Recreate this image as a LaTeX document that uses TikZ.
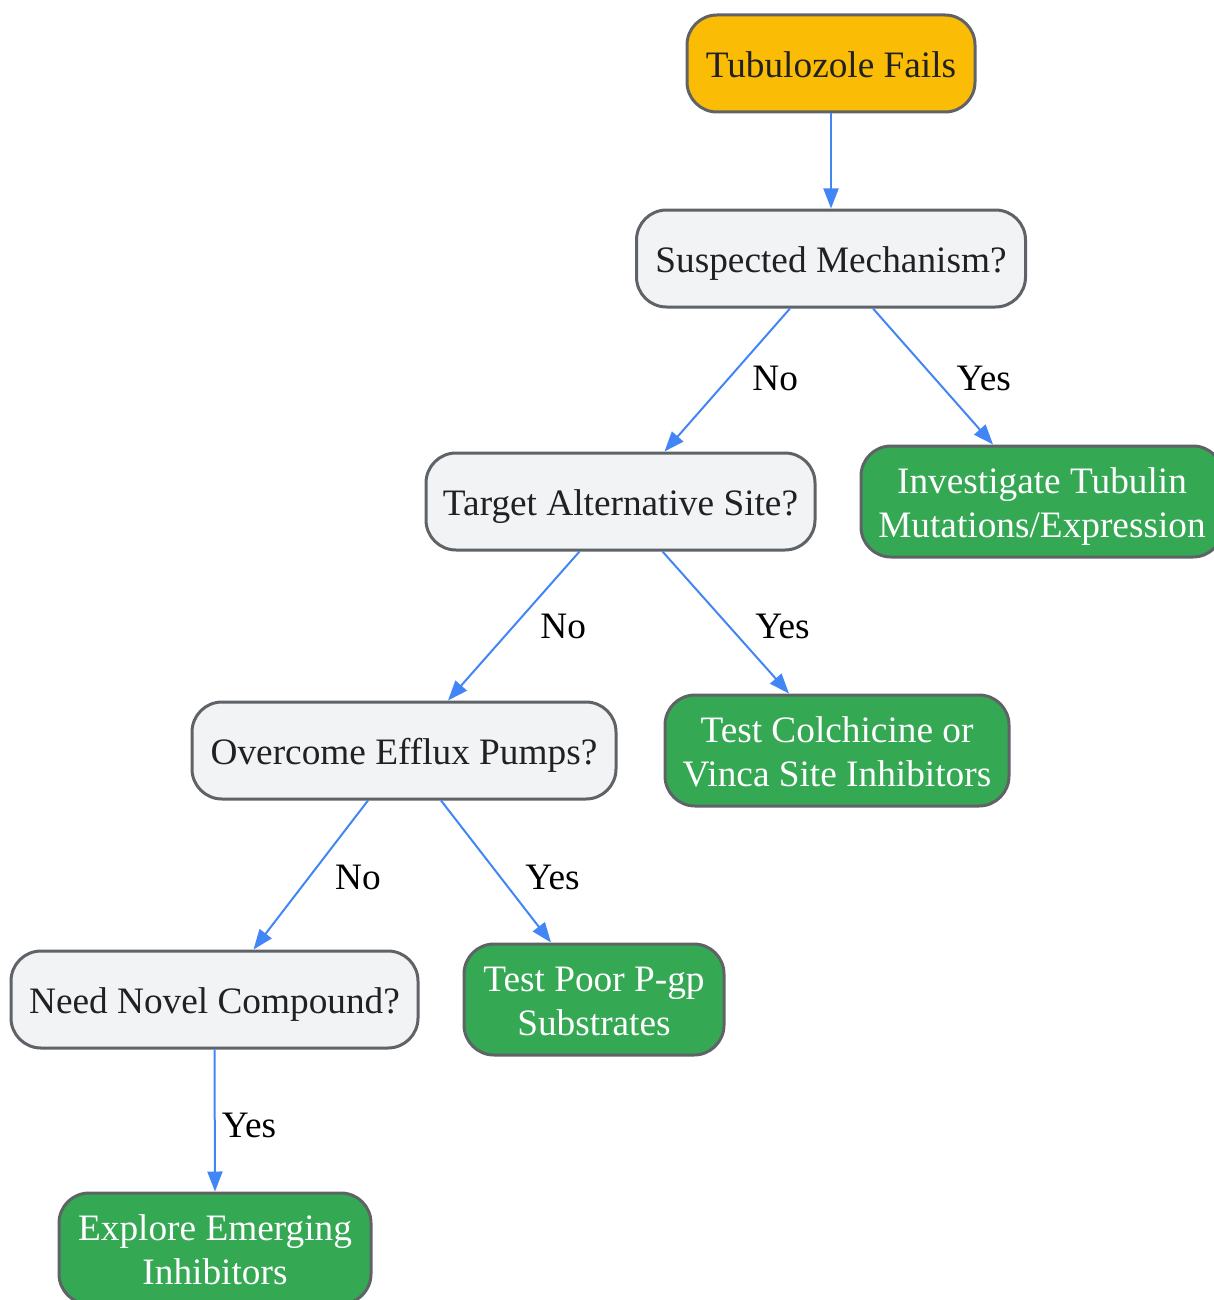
\documentclass[tikz,border=0pt]{standalone}
\usepackage{fontspec}
\setmainfont{Liberation Serif}
\usetikzlibrary{arrows.meta}
\definecolor{ybox}{HTML}{FBBC05}
\definecolor{gbox}{HTML}{34A853}
\definecolor{qbox}{HTML}{F1F3F4}
\definecolor{bord}{HTML}{5F6368}
\definecolor{txt}{HTML}{202124}
\definecolor{edge}{HTML}{4285F4}
\newcommand\twolines[2]{\raisebox{-4.7pt}[\height][\depth]{\begin{tabular}{@{}c@{}}#1\\#2\end{tabular}}}
\tikzset{
  basebox/.style={draw=bord, line width=3pt, rounded corners=30pt, inner sep=0pt, align=center,
    font=\fontsize{37.3}{44}\selectfont},
  startbox/.style={basebox, fill=ybox, text=txt, text height=30pt, text depth=1.6pt},
  qnode/.style={basebox, fill=qbox, text=txt, minimum height=97pt, text height=30pt, text depth=1.6pt},
  actbox/.style={basebox, fill=gbox, text=white, minimum height=111pt},
  link/.style={draw=edge, line width=2pt, -{Triangle[length=20pt,width=15pt]}},
  lbl/.style={font=\fontsize{37.3}{44}\selectfont, text=black, inner sep=0pt, anchor=base, pos=0.5}
}
\begin{document}
\begin{tikzpicture}[x=1pt,y=-1pt]
\useasboundingbox (0,0) rectangle (1213,1300);
\node[startbox, minimum width=288pt, minimum height=97pt] (A) at (831,63.5) {Tubulozole Fails};
\node[qnode, minimum width=389pt] (B) at (831,258.5) {Suspected Mechanism?};
\node[qnode, minimum width=389pt] (C) at (620.5,501.5) {Target Alternative Site?};
\node[actbox, minimum width=362pt] (D) at (1042,501.5) {\twolines{Investigate Tubulin}{Mutations/Expression}};
\node[qnode, minimum width=424pt] (E) at (404,750.5) {Overcome Efflux Pumps?};
\node[actbox, minimum width=344pt] (F) at (837,750.5) {\twolines{Test Colchicine or}{Vinca Site Inhibitors}};
\node[qnode, minimum width=407pt] (G) at (214.5,999.5) {Need Novel Compound?};
\node[actbox, minimum width=260pt] (H) at (594,999.5) {\twolines{Test Poor P-gp}{Substrates}};
\node[actbox, minimum width=312pt] (I) at (215,1248.5) {\twolines{Explore Emerging}{Inhibitors}};

\draw[link] (A.south) -- (B.north);
\draw[link] ([xshift=-41pt]B.south) -- node[lbl, xshift=48pt, yshift=-10pt] {No} ([xshift=44pt]C.north);
\draw[link] ([xshift=42pt]B.south) -- node[lbl, xshift=50.75pt, yshift=-13.5pt] {Yes} ([xshift=-49pt]D.north);
\draw[link] ([xshift=-41pt]C.south) -- node[lbl, xshift=49.5pt, yshift=-12.3pt] {No} ([xshift=44pt]E.north);
\draw[link] ([xshift=42pt]C.south) -- node[lbl, xshift=56.75pt, yshift=-15.8pt] {Yes} ([xshift=-48pt]F.north);
\draw[link] ([xshift=-36pt]E.south) -- node[lbl, xshift=47.25pt, yshift=-14.3pt] {No} ([xshift=39pt]G.north);
\draw[link] ([xshift=37pt]E.south) -- node[lbl, xshift=56.5pt, yshift=-17.8pt] {Yes} ([xshift=-43pt]H.north);
\draw[link] (G.south) -- node[lbl, xshift=34.25pt, yshift=-16.8pt] {Yes} (I.north);
\end{tikzpicture}
\end{document}
